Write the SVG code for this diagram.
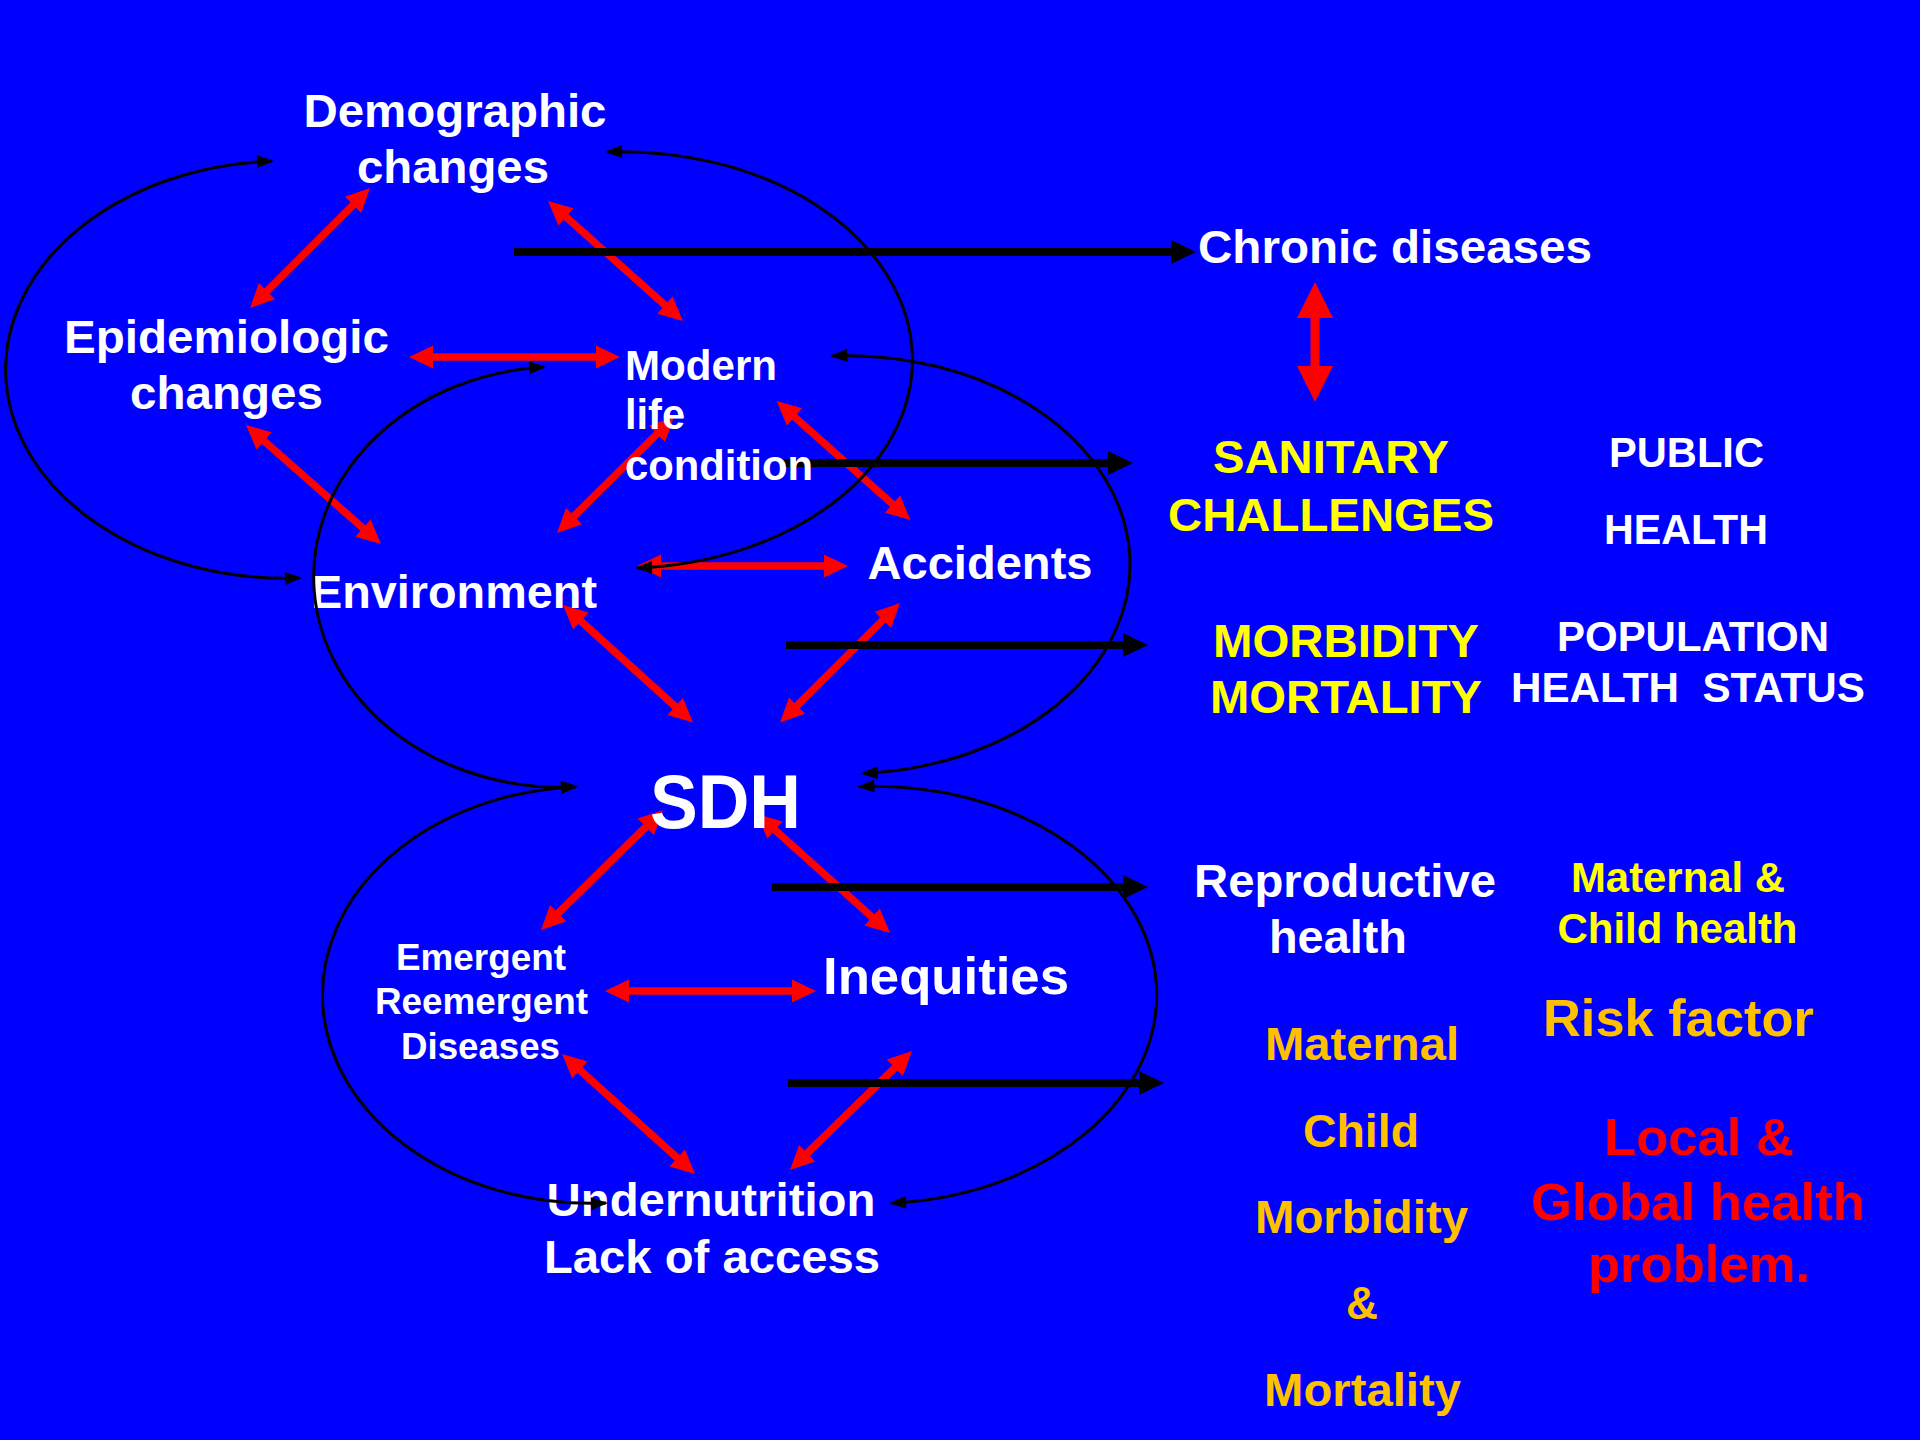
<svg xmlns="http://www.w3.org/2000/svg" width="1920" height="1440" viewBox="0 0 1920 1440">
<style>
text{font-family:"Liberation Sans",Arial,sans-serif;font-weight:bold;text-anchor:middle;lengthAdjust:spacingAndGlyphs}
.w{fill:#FFFFFF}.y{fill:#FFFF00}.o{fill:#FFC000}.r{fill:#FF0000}
.l{text-anchor:start}
.ra{stroke:#FF0000;stroke-width:7.5;fill:none;marker-start:url(#rh);marker-end:url(#rh)}
.rb{stroke:#FF0000;stroke-width:9;fill:none;marker-start:url(#rb);marker-end:url(#rb)}
.ba{stroke:#000000;stroke-width:8;fill:none;marker-end:url(#bh)}
.arc{stroke:#000000;stroke-width:3;fill:none;marker-start:url(#ah);marker-end:url(#ah)}
</style>
<defs>
<marker id="rh" markerUnits="userSpaceOnUse" markerWidth="24" markerHeight="23" refX="4" refY="11.5" orient="auto-start-reverse" overflow="visible"><path d="M0,0 L24,11.5 L0,23 z" fill="#FF0000"/></marker>
<marker id="rb" markerUnits="userSpaceOnUse" markerWidth="36" markerHeight="36" refX="4" refY="18" orient="auto-start-reverse" overflow="visible"><path d="M0,0 L36,18 L0,36 z" fill="#FF0000"/></marker>
<marker id="bh" markerUnits="userSpaceOnUse" markerWidth="25" markerHeight="24" refX="3" refY="12" orient="auto" overflow="visible"><path d="M0,0 L25,12 L0,24 z" fill="#000000"/></marker>
<marker id="ah" markerUnits="userSpaceOnUse" markerWidth="17" markerHeight="13" refX="15" refY="6.5" orient="auto-start-reverse" overflow="visible"><path d="M0,0 L17,6.5 L0,13 z" fill="#000000"/></marker>
</defs>
<rect x="0" y="0" width="1920" height="1440" fill="#0000FF"/>
<g id="connectors">
<line class="ra" x1="355.9" y1="202.1" x2="264.1" y2="293.9"/>
<line class="ra" x1="563" y1="214.3" x2="668" y2="307.7"/>
<line class="ra" x1="429" y1="357" x2="600" y2="357"/>
<line class="ra" x1="261" y1="438.2" x2="366" y2="530.8"/>
<line class="ra" x1="659.8" y1="431.1" x2="571.2" y2="518.9"/>
<line class="ra" x1="791.5" y1="414.3" x2="895.5" y2="506.7"/>
<line class="ra" x1="657" y1="566" x2="828" y2="566"/>
<line class="ra" x1="577.8" y1="618.4" x2="678.2" y2="709.1"/>
<line class="ra" x1="885.8" y1="617.1" x2="794.2" y2="708.4"/>
<line class="rb" x1="1315" y1="314" x2="1315" y2="370"/>
<line class="ra" x1="648.7" y1="824" x2="555.3" y2="916"/>
<line class="ra" x1="771.9" y1="827.3" x2="875.1" y2="919.7"/>
<line class="ra" x1="625" y1="991" x2="796" y2="991"/>
<line class="ra" x1="576.9" y1="1067.4" x2="680.2" y2="1160.6"/>
<line class="ra" x1="897.7" y1="1065" x2="804.3" y2="1156"/>
<line class="ba" x1="514" y1="252" x2="1174" y2="252"/>
<line class="ba" x1="780" y1="463" x2="1111" y2="463"/>
<line class="ba" x1="786" y1="645" x2="1126" y2="645"/>
<line class="ba" x1="772" y1="887" x2="1126" y2="887"/>
<line class="ba" x1="788" y1="1083" x2="1142" y2="1083"/>
</g>
<g id="n-demographic"><text class="w" x="455" y="127" font-size="47" textLength="303" lengthAdjust="spacingAndGlyphs">Demographic</text><text class="w" x="453" y="183" font-size="47" textLength="192" lengthAdjust="spacingAndGlyphs">changes</text></g>
<g id="n-epidemiologic"><text class="w" x="226.5" y="353" font-size="47" textLength="325" lengthAdjust="spacingAndGlyphs">Epidemiologic</text><text class="w" x="226.5" y="409" font-size="47" textLength="193" lengthAdjust="spacingAndGlyphs">changes</text></g>
<g id="n-modern"><text class="w l" x="625" y="380" font-size="42" textLength="152" lengthAdjust="spacingAndGlyphs">Modern</text><text class="w l" x="625" y="429" font-size="42" textLength="60" lengthAdjust="spacingAndGlyphs">life</text><text class="w l" x="625" y="480" font-size="42" textLength="188" lengthAdjust="spacingAndGlyphs">condition</text></g>
<g id="n-environment"><text class="w" x="454" y="608" font-size="47" textLength="286" lengthAdjust="spacingAndGlyphs">Environment</text></g>
<g id="n-accidents"><text class="w" x="980" y="579" font-size="47" textLength="225" lengthAdjust="spacingAndGlyphs">Accidents</text></g>
<g id="n-chronic"><text class="w l" x="1198" y="263" font-size="47" textLength="394" lengthAdjust="spacingAndGlyphs">Chronic diseases</text></g>
<g id="n-sanitary"><text class="y" x="1331" y="473" font-size="47" textLength="236" lengthAdjust="spacingAndGlyphs">SANITARY</text><text class="y" x="1331" y="531" font-size="47" textLength="326" lengthAdjust="spacingAndGlyphs">CHALLENGES</text></g>
<g id="n-public"><text class="w" x="1686.5" y="467" font-size="42" textLength="155" lengthAdjust="spacingAndGlyphs">PUBLIC</text><text class="w" x="1686" y="544" font-size="42" textLength="164" lengthAdjust="spacingAndGlyphs">HEALTH</text></g>
<g id="n-morbidity"><text class="y" x="1346" y="657" font-size="47" textLength="266" lengthAdjust="spacingAndGlyphs">MORBIDITY</text><text class="y" x="1346" y="713" font-size="47" textLength="272" lengthAdjust="spacingAndGlyphs">MORTALITY</text></g>
<g id="n-population"><text class="w" x="1693" y="651" font-size="42" textLength="272" lengthAdjust="spacingAndGlyphs">POPULATION</text><text class="w" x="1688" y="701.5" font-size="42" textLength="354" lengthAdjust="spacingAndGlyphs" xml:space="preserve" style="white-space:pre">HEALTH  STATUS</text></g>
<g id="n-sdh"><text class="w" x="725.5" y="828" font-size="76" textLength="151" lengthAdjust="spacingAndGlyphs">SDH</text></g>
<g id="n-emergent"><text class="w" x="481" y="970" font-size="37" textLength="170" lengthAdjust="spacingAndGlyphs">Emergent</text><text class="w" x="481.5" y="1014" font-size="37" textLength="213" lengthAdjust="spacingAndGlyphs">Reemergent</text><text class="w" x="480.5" y="1059" font-size="37" textLength="159" lengthAdjust="spacingAndGlyphs">Diseases</text></g>
<g id="n-inequities"><text class="w" x="946" y="994" font-size="52" textLength="246" lengthAdjust="spacingAndGlyphs">Inequities</text></g>
<g id="n-undernutrition"><text class="w" x="711" y="1216" font-size="47" textLength="329" lengthAdjust="spacingAndGlyphs">Undernutrition</text><text class="w" x="712" y="1273" font-size="47" textLength="336" lengthAdjust="spacingAndGlyphs">Lack of access</text></g>
<g id="n-reproductive"><text class="w" x="1345" y="897" font-size="47" textLength="302" lengthAdjust="spacingAndGlyphs">Reproductive</text><text class="w" x="1338" y="953" font-size="47" textLength="138" lengthAdjust="spacingAndGlyphs">health</text></g>
<g id="n-maternal-child-health"><text class="y" x="1678" y="892" font-size="42" textLength="214" lengthAdjust="spacingAndGlyphs">Maternal &amp;</text><text class="y" x="1677.5" y="943" font-size="42" textLength="240" lengthAdjust="spacingAndGlyphs">Child health</text></g>
<g id="n-risk"><text class="o" x="1678.5" y="1036" font-size="52" textLength="271" lengthAdjust="spacingAndGlyphs">Risk factor</text></g>
<g id="n-maternal-list"><text class="o" x="1362" y="1060" font-size="47" textLength="194" lengthAdjust="spacingAndGlyphs">Maternal</text><text class="o" x="1361" y="1147" font-size="47" textLength="116" lengthAdjust="spacingAndGlyphs">Child</text><text class="o" x="1361.5" y="1233" font-size="47" textLength="213" lengthAdjust="spacingAndGlyphs">Morbidity</text><text class="o" x="1362" y="1319" font-size="47" textLength="32" lengthAdjust="spacingAndGlyphs">&amp;</text><text class="o" x="1362.5" y="1405.5" font-size="47" textLength="197" lengthAdjust="spacingAndGlyphs">Mortality</text></g>
<g id="n-local-global"><text class="r" x="1699" y="1155" font-size="52" textLength="190" lengthAdjust="spacingAndGlyphs">Local &amp;</text><text class="r" x="1698" y="1219.5" font-size="52" textLength="334" lengthAdjust="spacingAndGlyphs">Global health</text><text class="r" x="1699" y="1282" font-size="52" textLength="222" lengthAdjust="spacingAndGlyphs">problem.</text></g>
<g id="loops">
<path class="arc" d="M272,161 A280,208.5 0 0 0 300,578"/>
<path class="arc" d="M607,152 A290,208 0 0 1 637,568"/>
<path class="arc" d="M544,367 A246,210 0 0 0 576,786.7"/>
<path class="arc" d="M832.3,356 A282,208.5 0 0 1 862.7,773.3"/>
<path class="arc" d="M576,786.7 A268,208 0 0 0 606,1203"/>
<path class="arc" d="M859.3,786.7 A281,208 0 0 1 891,1203"/>
</g>
</svg>
